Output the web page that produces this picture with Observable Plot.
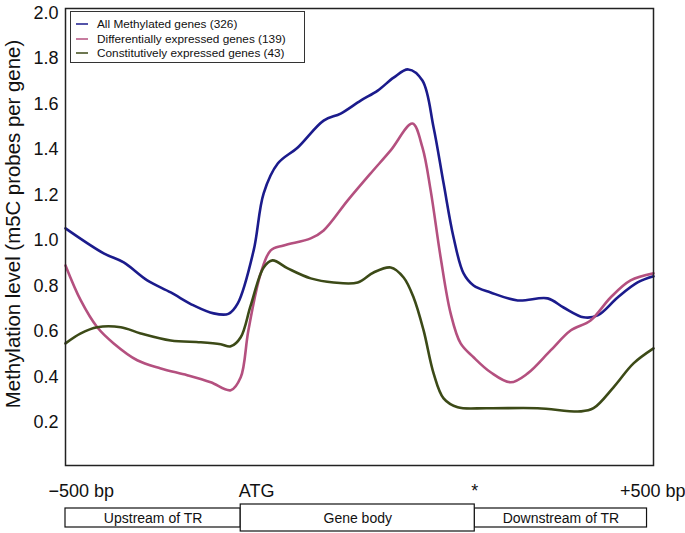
<!DOCTYPE html>
<html><head><meta charset="utf-8">
<script src="https://cdn.jsdelivr.net/npm/d3@7"></script>
<script src="https://cdn.jsdelivr.net/npm/@observablehq/plot@0.6"></script>
<style>
body{margin:0;background:#fff;font-family:"Liberation Sans",Arial,sans-serif}
#chart{position:relative;width:685px;height:533px}
#chart svg{display:block}
.legend{position:absolute;left:70px;top:11px;width:233px;height:50px;border:1.5px solid #333;background:#fff;font-size:11.8px;color:#111}
.legend .row{position:absolute;left:0;height:14px;line-height:14px;white-space:nowrap}
.legend .sw{position:absolute;left:5px;top:6px;width:12px;height:2px}
.legend .lab{position:absolute;left:26px;top:0}
</style></head><body><div id="chart"></div><script>
// series names and colours
const seriesNames = ["All Methylated genes (326)", "Differentially expressed genes (139)", "Constitutively expressed genes (43)"];
const seriesColors = ["#1b1b8c", "#b4507f", "#3c4a17"];

// profile position (0 = -500 bp, 100 = +500 bp) and methylation level
const allPos = [0, 6.5, 9.9, 13.9, 17.9, 21.8, 25.2, 27.7, 29.3, 32.0, 33.7, 36.1, 39.5, 43.9, 46.8, 50.2, 53.1, 55.8, 58.3, 60.7, 62.6, 64.3, 66.0, 67.7, 69.4, 72.3, 76.9, 82.0, 84.7, 88.1, 90.5, 93.9, 97.3, 100];
const allVal = [1.053, 0.943, 0.903, 0.824, 0.771, 0.714, 0.679, 0.677, 0.723, 0.956, 1.207, 1.338, 1.409, 1.527, 1.558, 1.615, 1.659, 1.716, 1.752, 1.703, 1.497, 1.251, 1.013, 0.855, 0.802, 0.771, 0.736, 0.745, 0.705, 0.662, 0.670, 0.749, 0.815, 0.842];

const diffPos = [0, 2.6, 5.4, 8.2, 12.2, 16.2, 20.7, 24.7, 28.1, 29.8, 31.1, 33.2, 34.9, 37.1, 41.7, 43.9, 48.0, 51.9, 55.3, 59.0, 60.7, 62.1, 63.8, 65.5, 67.2, 69.4, 72.3, 75.7, 78.6, 82.5, 85.9, 89.3, 92.7, 96.1, 100];
const diffVal = [0.890, 0.736, 0.618, 0.547, 0.473, 0.437, 0.407, 0.376, 0.341, 0.398, 0.604, 0.855, 0.956, 0.978, 1.009, 1.044, 1.176, 1.295, 1.396, 1.514, 1.409, 1.220, 0.925, 0.679, 0.547, 0.486, 0.420, 0.376, 0.415, 0.516, 0.604, 0.648, 0.749, 0.824, 0.855];

const constPos = [0, 2.6, 5.4, 9.4, 12.8, 17.9, 23.0, 26.4, 28.1, 29.8, 31.5, 33.7, 35.2, 37.8, 41.7, 45.6, 49.7, 52.4, 55.3, 57.5, 59.2, 60.9, 62.6, 64.3, 66.7, 71.8, 80.3, 87.6, 89.8, 93.2, 96.6, 100];
const constVal = [0.547, 0.591, 0.618, 0.618, 0.591, 0.560, 0.552, 0.543, 0.534, 0.574, 0.714, 0.881, 0.912, 0.877, 0.833, 0.815, 0.815, 0.859, 0.881, 0.837, 0.749, 0.604, 0.415, 0.305, 0.266, 0.262, 0.262, 0.248, 0.262, 0.354, 0.459, 0.525];

const yTicks = [0.2, 0.4, 0.6, 0.8, 1.0, 1.2, 1.4, 1.6, 1.8, 2.0];
const yLabel = "Methylation level (m5C probes per gene)";

// gene-structure strip
const regionNames = ["Upstream of TR", "Gene body", "Downstream of TR"];
const regionStart = [0, 29.8, 69.6];
const regionEnd = [29.8, 69.6, 98.9];
const tickLabels = ["\u2212500 bp", "ATG", "*", "+500 bp"];
const tickPos = [0, 29.8, 69.6, 100];

const font = '"Liberation Sans", Arial, sans-serif';
const series = [[allPos, allVal], [diffPos, diffVal], [constPos, constVal]];
const data = series.flatMap(([p, v], i) => p.map((x, j) => ({series: seriesNames[i], x, y: v[j]})));

const W = 685, mL = 65, mR = 32;

const main = Plot.plot({
  width: W, height: 467,
  marginLeft: mL, marginRight: mR, marginTop: 8, marginBottom: 2,
  style: {fontFamily: font, fontSize: "18px", color: "#111", background: "#fff"},
  x: {domain: [0, 100], axis: null},
  y: {domain: [0.01, 2.02]},
  color: {domain: seriesNames, range: seriesColors},
  marks: [
    Plot.axisY({ticks: yTicks, tickSize: 0, tickPadding: 7, tickFormat: d3.format(".1f"), fontSize: 18, label: null}),
    Plot.text([yLabel], {frameAnchor: "left", rotate: -90, dx: -52, dy: -13, textAnchor: "middle", lineAnchor: "middle", fontSize: 20.4, fill: "#111"}),
    Plot.line(data, {x: "x", y: "y", stroke: "series", curve: "catmull-rom", strokeWidth: 2.6}),
    Plot.frame({stroke: "#222", strokeWidth: 1.5})
  ]
});

const regions = regionNames.map((name, i) => ({name, start: regionStart[i], end: regionEnd[i], big: name === "Gene body"}));
const ticks = tickLabels.map((label, i) => ({label, x: tickPos[i]}));

const strip = Plot.plot({
  width: W, height: 66,
  marginLeft: mL, marginRight: mR, marginTop: 0, marginBottom: 0,
  style: {fontFamily: font, color: "#111", background: "#fff", overflow: "visible"},
  x: {domain: [0, 100], axis: null},
  y: {domain: [0, 66], range: [0, 66], axis: null},
  marks: [
    Plot.rect(regions.filter(d => !d.big), {x1: "start", x2: "end", y1: 41, y2: 60, fill: "#fff", stroke: "#111", strokeWidth: 1.2}),
    Plot.rect(regions.filter(d => d.big), {x1: "start", x2: "end", y1: 37, y2: 64, fill: "#fff", stroke: "#111", strokeWidth: 1.2}),
    Plot.text(regions, {x: d => (d.start + d.end) / 2, y: 51, text: "name", fontSize: 14, fill: "#111"}),
    Plot.text(ticks.slice(0, 1), {x: "x", y: 24, text: "label", fontSize: 18, textAnchor: "start", dx: -17, fill: "#111"}),
    Plot.text(ticks.slice(1, 2), {x: "x", y: 24, text: "label", fontSize: 18, textAnchor: "start", dx: -2, fill: "#111"}),
    Plot.text(ticks.slice(2, 3), {x: "x", y: 24, text: "label", fontSize: 18, textAnchor: "middle", fill: "#111"}),
    Plot.text(ticks.slice(3, 4), {x: "x", y: 24, text: "label", fontSize: 18, textAnchor: "end", dx: 32, fill: "#111"})
  ]
});

const chart = document.getElementById("chart");
chart.appendChild(main);
chart.appendChild(strip);

const legend = document.createElement("div");
legend.className = "legend";
seriesNames.forEach((name, i) => {
  const row = document.createElement("div");
  row.className = "row";
  row.style.top = (5 + i * 14.5) + "px";
  const sw = document.createElement("span");
  sw.className = "sw";
  sw.style.background = seriesColors[i];
  sw.style.opacity = 0.75;
  const lab = document.createElement("span");
  lab.className = "lab";
  lab.textContent = name;
  row.appendChild(sw); row.appendChild(lab);
  legend.appendChild(row);
});
chart.appendChild(legend);
</script></body></html>
